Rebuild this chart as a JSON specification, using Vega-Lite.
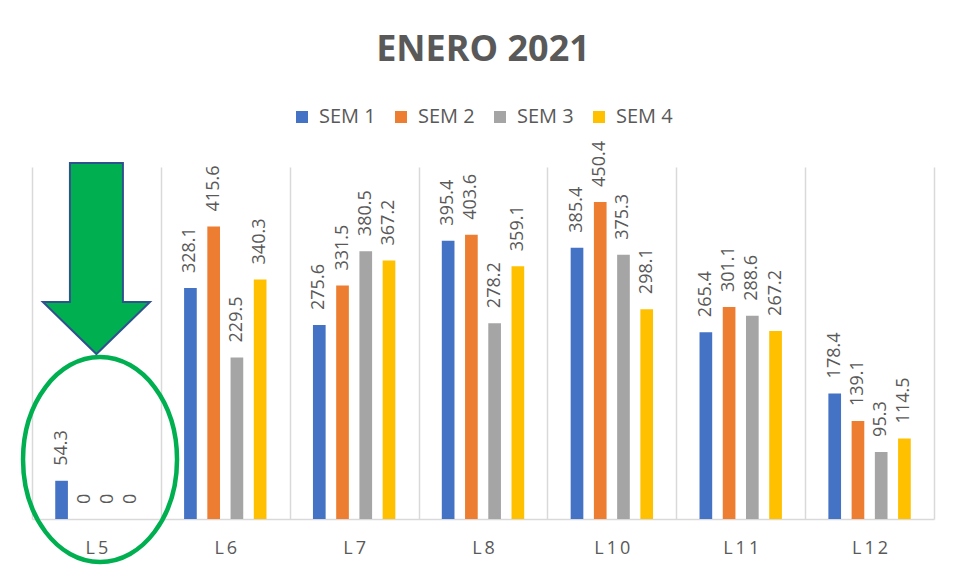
{
  "$schema": "https://vega.github.io/schema/vega-lite/v6.json",
  "width": 902,
  "height": 352,
  "autosize": {"type": "none"},
  "padding": {"left": 32, "top": 167, "right": 29, "bottom": 58},
  "background": "white",
  "config": {"font": "Open Sans", "view": {"stroke": null}},
  "title": {"text": "ENERO 2021", "fontSize": 36, "fontWeight": "bold", "color": "#595959", "font": "Open Sans", "anchor": "middle", "offset": 38},
  "datasets": {
    "ventas": [
      {"linea": "L5", "semana": "SEM 1", "valor": 54.3},
      {"linea": "L5", "semana": "SEM 2", "valor": 0},
      {"linea": "L5", "semana": "SEM 3", "valor": 0},
      {"linea": "L5", "semana": "SEM 4", "valor": 0},
      {"linea": "L6", "semana": "SEM 1", "valor": 328.1},
      {"linea": "L6", "semana": "SEM 2", "valor": 415.6},
      {"linea": "L6", "semana": "SEM 3", "valor": 229.5},
      {"linea": "L6", "semana": "SEM 4", "valor": 340.3},
      {"linea": "L7", "semana": "SEM 1", "valor": 275.6},
      {"linea": "L7", "semana": "SEM 2", "valor": 331.5},
      {"linea": "L7", "semana": "SEM 3", "valor": 380.5},
      {"linea": "L7", "semana": "SEM 4", "valor": 367.2},
      {"linea": "L8", "semana": "SEM 1", "valor": 395.4},
      {"linea": "L8", "semana": "SEM 2", "valor": 403.6},
      {"linea": "L8", "semana": "SEM 3", "valor": 278.2},
      {"linea": "L8", "semana": "SEM 4", "valor": 359.1},
      {"linea": "L10", "semana": "SEM 1", "valor": 385.4},
      {"linea": "L10", "semana": "SEM 2", "valor": 450.4},
      {"linea": "L10", "semana": "SEM 3", "valor": 375.3},
      {"linea": "L10", "semana": "SEM 4", "valor": 298.1},
      {"linea": "L11", "semana": "SEM 1", "valor": 265.4},
      {"linea": "L11", "semana": "SEM 2", "valor": 301.1},
      {"linea": "L11", "semana": "SEM 3", "valor": 288.6},
      {"linea": "L11", "semana": "SEM 4", "valor": 267.2},
      {"linea": "L12", "semana": "SEM 1", "valor": 178.4},
      {"linea": "L12", "semana": "SEM 2", "valor": 139.1},
      {"linea": "L12", "semana": "SEM 3", "valor": 95.3},
      {"linea": "L12", "semana": "SEM 4", "valor": 114.5}
    ],
    "flecha": [{"linea": "L5", "valor": 370}],
    "elipse": [{"linea": "L5", "valor": 84.5}]
  },
  "layer": [
    {
      "data": {"name": "ventas"},
      "mark": {"type": "bar"},
      "encoding": {
        "x": {"field": "linea", "type": "nominal", "sort": null,
              "scale": {"domain": ["L5", "L6", "L7", "L8", "L10", "L11", "L12"], "paddingInner": 0, "paddingOuter": 0},
              "axis": {"title": null, "tickBand": "extent", "ticks": false, "grid": true, "gridColor": "#d9d9d9", "gridWidth": 1.5,
                       "domainColor": "#d9d9d9", "domainWidth": 1.5, "labelAngle": 0, "labelFontSize": 18, "labelColor": "#595959",
                       "labelFont": "Open Sans", "labelPadding": 20,
                       "labelExpr": "join(split(datum.label, ''), '\u2009')"}},
        "xOffset": {"field": "semana", "type": "nominal", "scale": {"paddingInner": 0.4545, "paddingOuter": 1.159}},
        "y": {"field": "valor", "type": "quantitative", "scale": {"domain": [0, 500]}, "axis": null},
        "color": {"field": "semana", "type": "nominal",
                  "scale": {"domain": ["SEM 1", "SEM 2", "SEM 3", "SEM 4"], "range": ["#4472c4", "#ed7d31", "#a5a5a5", "#ffc000"]},
                  "legend": {"title": null, "orient": "none", "legendX": 260, "legendY": -60, "direction": "horizontal",
                             "symbolType": "square", "symbolSize": 144, "symbolStrokeWidth": 0, "labelFontSize": 20,
                             "labelColor": "#595959", "labelFont": "Open Sans", "labelOffset": 7, "columnPadding": 15}}
      }
    },
    {
      "data": {"name": "ventas"},
      "mark": {"type": "text", "angle": 270, "align": "left", "baseline": "middle", "dx": 15, "fontSize": 18, "color": "#595959", "font": "Open Sans"},
      "encoding": {
        "x": {"field": "linea", "type": "nominal", "sort": null, "scale": {"domain": ["L5", "L6", "L7", "L8", "L10", "L11", "L12"]}},
        "xOffset": {"field": "semana", "type": "nominal"},
        "y": {"field": "valor", "type": "quantitative", "scale": {"domain": [0, 500]}},
        "text": {"field": "valor", "type": "quantitative", "format": ".1~f"}
      }
    },
    {
      "data": {"name": "flecha"},
      "mark": {"type": "point", "shape": "M -0.265 -0.955 L 0.265 -0.955 L 0.265 0.435 L 0.535 0.435 L 0 0.955 L -0.535 0.435 L -0.265 0.435 Z",
               "size": 40000, "filled": true, "fill": "#00b050", "stroke": "#2f528f", "strokeWidth": 2, "opacity": 1},
      "encoding": {
        "x": {"field": "linea", "type": "nominal", "sort": null, "scale": {"domain": ["L5", "L6", "L7", "L8", "L10", "L11", "L12"]}},
        "y": {"field": "valor", "type": "quantitative", "scale": {"domain": [0, 500]}}
      }
    },
    {
      "data": {"name": "elipse"},
      "mark": {"type": "point", "shape": "M -0.734 0 A 0.77 1.025 0 1 0 0.806 0 A 0.77 1.025 0 1 0 -0.734 0 Z",
               "size": 40000, "filled": false, "stroke": "#00b050", "strokeWidth": 4.5, "opacity": 1},
      "encoding": {
        "x": {"field": "linea", "type": "nominal", "sort": null, "scale": {"domain": ["L5", "L6", "L7", "L8", "L10", "L11", "L12"]}},
        "y": {"field": "valor", "type": "quantitative", "scale": {"domain": [0, 500]}}
      }
    }
  ]
}
